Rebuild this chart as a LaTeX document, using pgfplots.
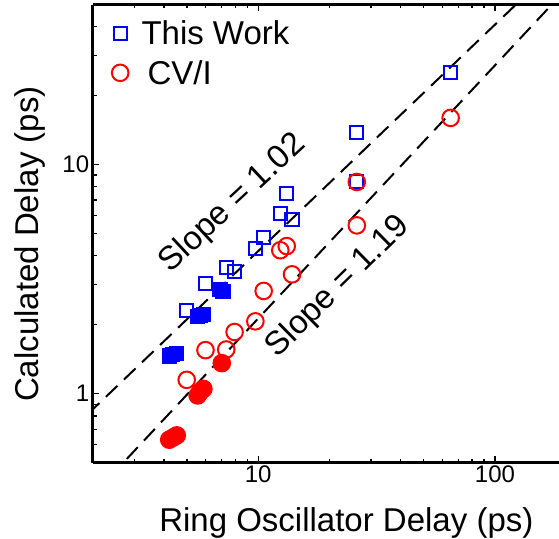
\documentclass[border=0pt]{standalone}
\usepackage{fontspec}
\setmainfont{Liberation Sans}
\usepackage{pgfplots}
\pgfplotsset{compat=1.18}

\definecolor{twblue}{RGB}{0,0,255}
\definecolor{cvred}{RGB}{255,0,0}
\newcommand{\lbl}{\fontsize{33}{40}\selectfont}
\newcommand{\tkl}{\fontsize{24}{28}\selectfont}

\begin{document}
\begin{tikzpicture}
\begin{axis}[
  name=ax,
  scale only axis,
  width=466.3pt, height=458.2pt,
  xmode=log, ymode=log,
  xmin=2, xmax=186.5,
  ymin=0.5, ymax=50,
  axis x line=box, axis y line=left,
  axis line style={line width=2.6pt, -},
  xtick={10,100}, xticklabels={10,100},
  ytick={1,10}, yticklabels={1,10},
  minor xtick={2,3,4,5,6,7,8,9,20,30,40,50,60,70,80,90},
  minor ytick={0.5,0.6,0.7,0.8,0.9,2,3,4,5,6,7,8,9,20,30,40,50},
  xtick pos=both, ytick pos=left,
  tick align=inside,
  major tick length=6.5pt, minor tick length=4pt,
  every tick/.style={black, line width=1.3pt},
  tick label style={font=\tkl},
  /pgf/number format/assume math mode=true,
  xlabel={Ring Oscillator Delay (ps)},
  ylabel={Calculated Delay (ps)},
  label style={font=\lbl},
  xlabel style={at={(rel axis cs:0.544,-0.1497)}, anchor=base},
  ylabel style={at={(rel axis cs:-0.1152,0.477)}, anchor=base},
  legend style={at={(rel axis cs:0,1)}, anchor=north west,
    xshift=16pt, yshift=-12pt, row sep=10pt, column sep=11pt,
    draw=none, fill=none, font=\lbl},
  legend cell align=left,
  clip mode=individual,
]
% fitted trend lines
\addplot[black, line width=2pt, dash pattern=on 16pt off 9pt, forget plot]
  coordinates {(1.6,0.685) (200,81.0)};
\addplot[black, line width=2pt, dash pattern=on 16pt off 9pt, forget plot]
  coordinates {(2,0.360) (200,58.3)};

% This Work
\addplot[only marks, mark=square, mark size=6.6pt, twblue,
  mark options={line width=2pt}]
  coordinates {
    (65.0,25.2) (26.1,13.8) (26.1,8.46) (13.2,7.47) (12.4,6.11)
    (13.9,5.77) (10.55,4.80) (9.73,4.30) (7.33,3.55) (7.95,3.43)
    (5.99,3.04) (4.99,2.30)
  };
\addlegendentry{This Work}
\addplot[only marks, mark=square*, mark size=6.6pt, twblue,
  mark options={line width=2pt, fill=twblue}, forget plot]
  coordinates {
    (6.90,2.85) (7.10,2.80)
    (5.55,2.18) (5.70,2.20) (5.87,2.22)
    (4.21,1.46) (4.35,1.48) (4.53,1.50)
  };

% CV/I
\addplot[only marks, mark=o, mark size=8.3pt, cvred,
  mark options={line width=2pt}]
  coordinates {
    (65.0,16.0) (26.1,8.40) (26.1,5.43) (13.2,4.41) (12.4,4.23)
    (13.9,3.32) (10.55,2.81) (9.73,2.07) (7.95,1.86) (7.33,1.56)
    (5.99,1.55) (4.99,1.15)
  };
\addlegendentry{\hspace{6pt}CV/I}
\addplot[only marks, mark=*, mark size=8.3pt, cvred,
  mark options={line width=2pt, fill=cvred}, forget plot]
  coordinates {
    (7.02,1.36)
    (5.55,0.983) (5.70,1.02) (5.87,1.05)
    (4.21,0.630) (4.38,0.645) (4.53,0.658)
  };

\node[font=\lbl, rotate=43] at (axis cs:7.82,6.76) {Slope = 1.02};
\node[font=\lbl, rotate=44.5] at (axis cs:21.75,2.92) {Slope = 1.19};
\end{axis}
\pgfresetboundingbox
\path[use as bounding box]
  ([xshift=-92.7pt,yshift=-75.3pt]ax.south west)
  rectangle ([yshift=4.5pt]ax.north east);
\end{tikzpicture}
\end{document}
